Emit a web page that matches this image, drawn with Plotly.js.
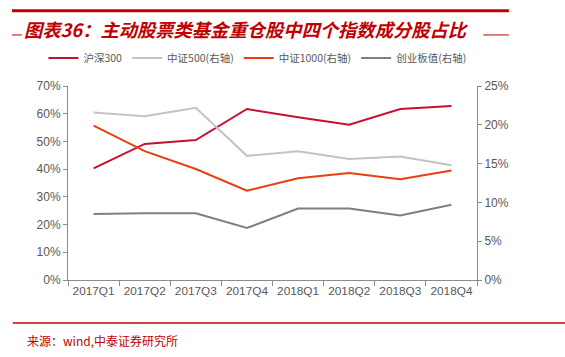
<!DOCTYPE html>
<html><head><meta charset="utf-8">
<script src="https://cdn.plot.ly/plotly-3.0.1.min.js"></script>
<style>body{margin:0;background:#fff}#c{width:565px;height:357px}</style>
</head><body><div id="c"></div>
<script>
const categories = ['2017Q1','2017Q2','2017Q3','2017Q4','2018Q1','2018Q2','2018Q3','2018Q4'];
const hs300 = [40.3, 49.1, 50.5, 61.7, 58.7, 56.0, 61.7, 62.8];
const zz500 = [21.6, 21.1, 22.2, 16.0, 16.6, 15.6, 15.9, 14.8];
const zz1000 = [19.9, 16.6, 14.3, 11.5, 13.1, 13.8, 13.0, 14.1];
const cyb = [8.5, 8.6, 8.6, 6.7, 9.2, 9.2, 8.3, 9.7];
const names = ['沪深300', '中证500(右轴)', '中证1000(右轴)', '创业板值(右轴)'];
const leftTicks = [0,10,20,30,40,50,60,70];
const rightTicks = [0,5,10,15,20,25];

const font = "Arial, 'Liberation Sans', 'Noto Sans CJK SC', sans-serif";
const cjk = "'Noto Sans CJK SC', sans-serif";
const traces = [
  {x: categories, y: hs300, name: names[0], yaxis: 'y', line: {color: '#C8102E', width: 2}},
  {x: categories, y: zz500, name: names[1], yaxis: 'y2', line: {color: '#C3C3C3', width: 2}},
  {x: categories, y: zz1000, name: names[2], yaxis: 'y2', line: {color: '#E8400C', width: 2}},
  {x: categories, y: cyb, name: names[3], yaxis: 'y2', line: {color: '#7F7F7F', width: 2}}
].map(t => Object.assign({type: 'scatter', mode: 'lines', hoverinfo: 'skip'}, t));

const layout = {
  width: 565, height: 357,
  margin: {l: 68, r: 88, t: 86, b: 77},
  paper_bgcolor: '#fff', plot_bgcolor: '#fff',
  font: {family: font, size: 11, color: '#595959'},
  showlegend: true,
  legend: {orientation: 'h', x: -0.06, xanchor: 'left', y: 1.144, yanchor: 'middle',
    font: {family: cjk, size: 10.5, color: '#595959'}, itemwidth: 30, tracegroupgap: 0,
    bgcolor: 'rgba(0,0,0,0)'},
  xaxis: {type: 'category', range: [-0.5, 7.5], showgrid: false, showline: true, linecolor: '#8C8C8C', linewidth: 1,
    ticks: 'outside', tickson: 'boundaries', ticklen: 5, tickcolor: '#8C8C8C', tickangle: 0,
    tickfont: {size: 11.8, color: '#595959'}, fixedrange: true},
  yaxis: {range: [0, 70], tickvals: leftTicks, ticktext: leftTicks.map(v => v + '%'),
    showgrid: false, zeroline: false, showline: true, linecolor: '#8C8C8C', linewidth: 1,
    ticks: 'outside', ticklen: 4, tickcolor: '#8C8C8C', tickfont: {size: 12, color: '#595959'}},
  yaxis2: {range: [0, 25], tickvals: rightTicks, ticktext: rightTicks.map(v => v + '%'),
    overlaying: 'y', side: 'right', showgrid: false, zeroline: false, showline: true,
    linecolor: '#8C8C8C', linewidth: 1, ticks: 'outside', ticklen: 4, tickcolor: '#8C8C8C',
    tickfont: {size: 12, color: '#595959'}},
  shapes: [
    {type: 'line', xref: 'paper', yref: 'paper', x0: -0.137, x1: 1.078, y0: 1.388, y1: 1.388,
      line: {color: '#C00000', width: 3}},
    {type: 'line', xref: 'paper', yref: 'paper', x0: -0.137, x1: -0.113, y0: 1.263, y1: 1.263,
      line: {color: '#C00000', width: 1}},
    {type: 'line', xref: 'paper', yref: 'paper', x0: 1.015, x1: 1.078, y0: 1.263, y1: 1.263,
      line: {color: '#C00000', width: 1}},
    {type: 'line', xref: 'paper', yref: 'paper', x0: -0.135, x1: 1.218, y0: -0.222, y1: -0.222,
      line: {color: '#C00000', width: 1.5}}
  ],
  annotations: [
    {xref: 'paper', yref: 'paper', x: -0.112, y: 1.295, xanchor: 'left', yanchor: 'middle', showarrow: false,
      text: '<b><i>图表36：主动股票类基金重仓股中四个指数成分股占比</i></b>',
      font: {family: cjk, size: 18.3, color: '#C00000'}},
    {xref: 'paper', yref: 'paper', x: -0.105, y: -0.31, xanchor: 'left', yanchor: 'middle', showarrow: false,
      text: '来源：wind,中泰证券研究所', font: {family: cjk, size: 12, color: '#C00000'}}
  ]
};
Plotly.newPlot('c', traces, layout, {staticPlot: true, displayModeBar: false});
</script></body></html>
